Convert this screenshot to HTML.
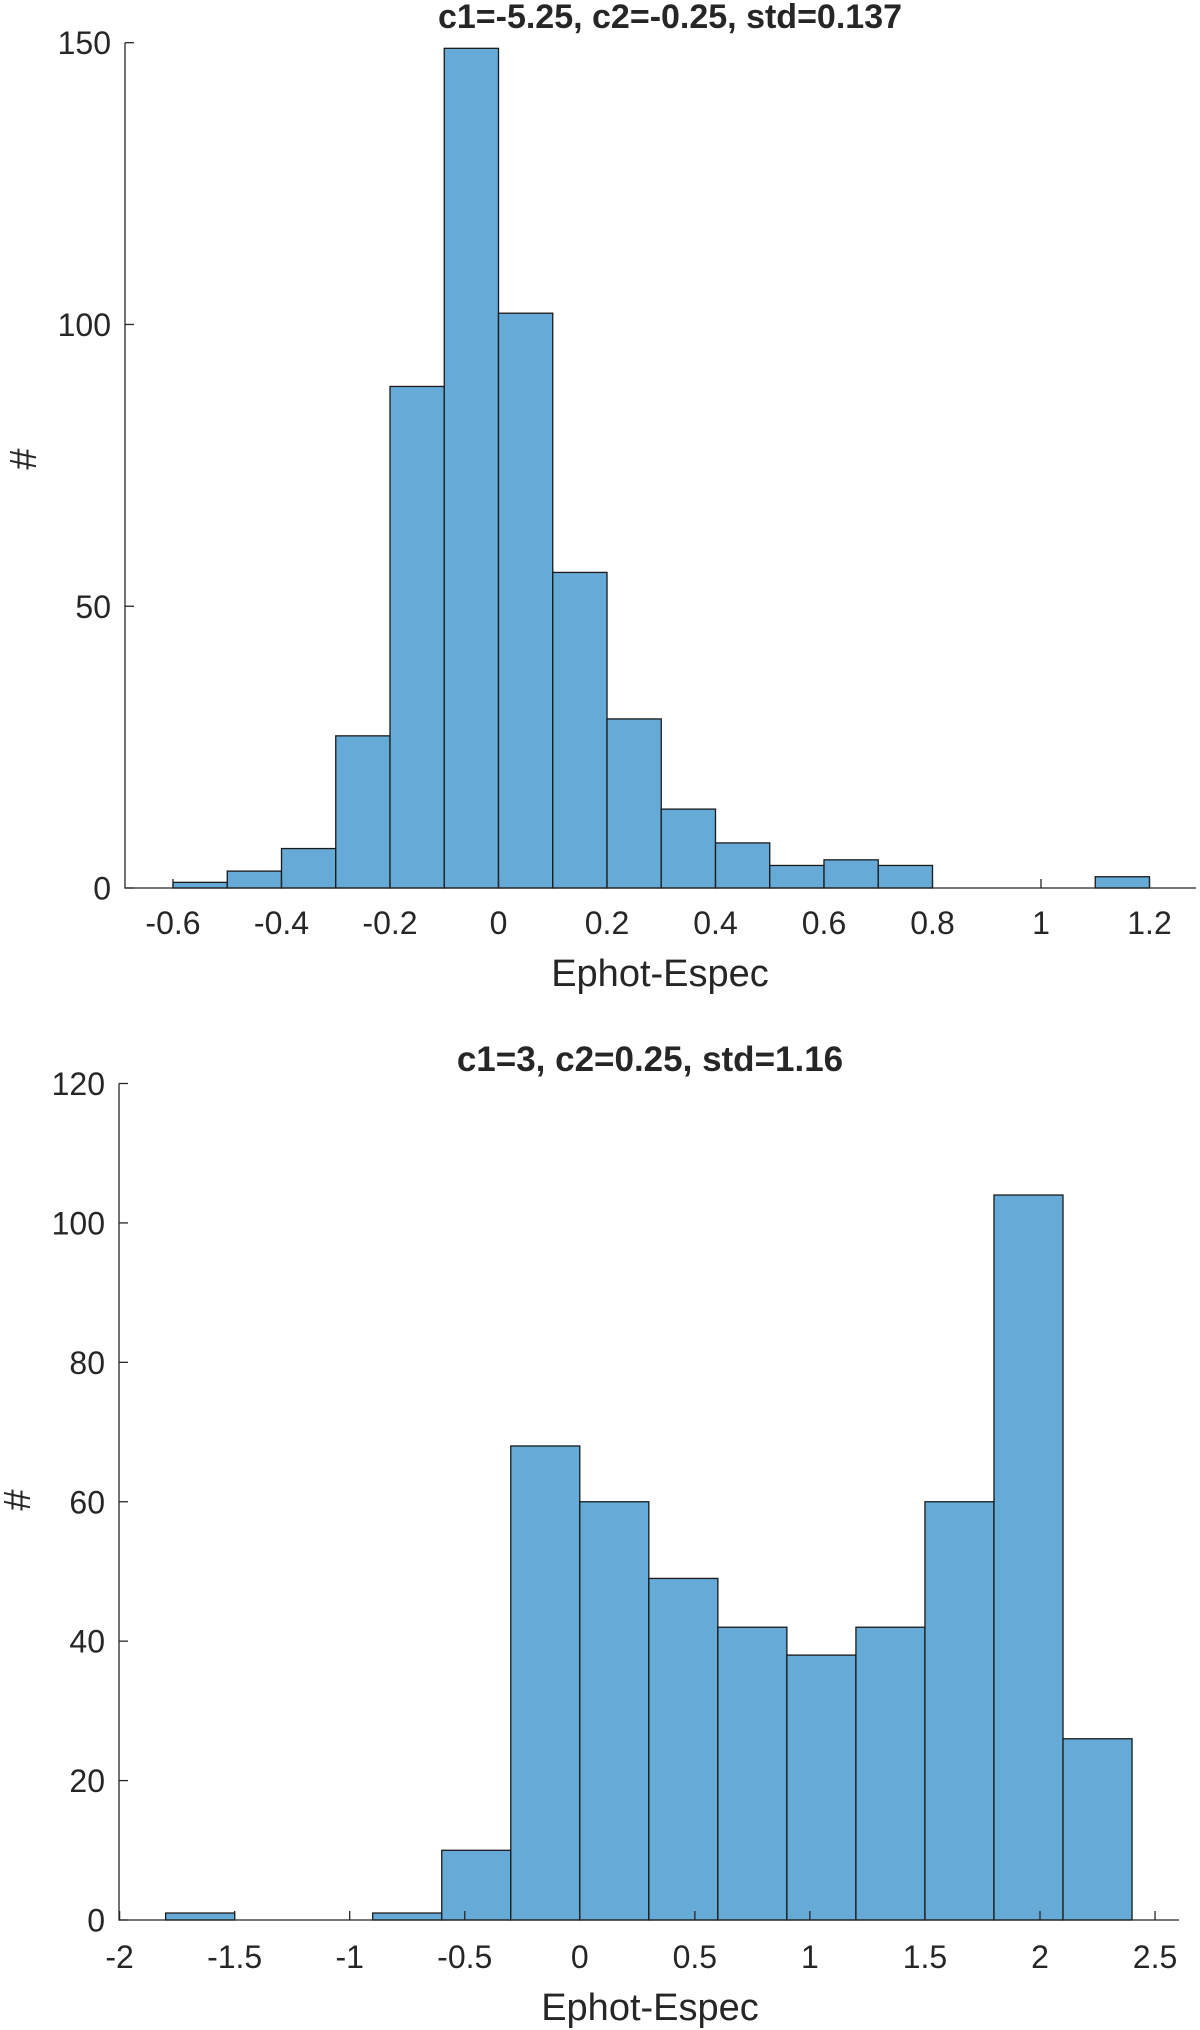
<!DOCTYPE html>
<html><head><meta charset="utf-8"><style>
html,body{margin:0;padding:0;background:#fff}
svg{display:block}
text{font-family:"Liberation Sans",Arial,sans-serif;fill:#262626}
</style></head><body>
<svg id="fig" width="1200" height="2030" viewBox="0 0 1200 2030" xmlns="http://www.w3.org/2000/svg"></svg>
<script>
// Top histogram data
const topBinEdges = [-0.6,-0.5,-0.4,-0.3,-0.2,-0.1,0,0.1,0.2,0.3,0.4,0.5,0.6,0.7,0.8,0.9,1.0,1.1,1.2];
const topCounts = [1,3,7,27,89,149,102,56,30,14,8,4,5,4,0,0,0,2];
const topXTicks = [-0.6,-0.4,-0.2,0,0.2,0.4,0.6,0.8,1,1.2];
const topYTicks = [0,50,100,150];
// Bottom histogram data
const botBinEdges = [-1.8,-1.5,-1.2,-0.9,-0.6,-0.3,0,0.3,0.6,0.9,1.2,1.5,1.8,2.1,2.4];
const botCounts = [1,0,0,1,10,68,60,49,42,38,42,60,104,26];
const botXTicks = [-2,-1.5,-1,-0.5,0,0.5,1,1.5,2,2.5];
const botYTicks = [0,20,40,60,80,100,120];

const NS="http://www.w3.org/2000/svg";
const svg=document.getElementById('fig');
function mk(tag,attrs,parent){const e=document.createElementNS(NS,tag);for(const k in attrs)e.setAttribute(k,attrs[k]);(parent||svg).appendChild(e);return e;}

function drawHist(cfg){
  const g=mk('g',{});
  
  
  const xs=v=>cfg.x0px+(v-cfg.x0)*cfg.xscale;
  const ys=v=>cfg.bottom-(v/cfg.ymax)*(cfg.bottom-cfg.top);
  for(let i=0;i<cfg.counts.length;i++){
    const c=cfg.counts[i];
    const x1=xs(cfg.edges[i]),x2=xs(cfg.edges[i+1]);
    const r=mk('rect',{x:x1,y:ys(c),width:x2-x1,height:ys(0)-ys(c),fill:'#66aad7',stroke:'#1a1a1a','stroke-width':1.3},g);
    
    
  }
  const ax=mk('path',{d:`M${cfg.left},${cfg.top} L${cfg.left},${cfg.bottom} L${cfg.right},${cfg.bottom}`,fill:'none',stroke:'#262626','stroke-width':1.3},g);
  
  
  const fs=cfg.fs;
  cfg.xticks.forEach(t=>{
    const x=xs(t);
    mk('line',{x1:x,y1:cfg.bottom,x2:x,y2:cfg.bottom-9,stroke:'#262626','stroke-width':1.3},g);
    const tx=mk('text',{x:x,y:cfg.bottom+cfg.xtickOff,'text-anchor':'middle','font-size':fs},g);
    tx.textContent=String(t);
    
    
  });
  cfg.yticks.forEach(t=>{
    const y=ys(t);
    mk('line',{x1:cfg.left,y1:y,x2:cfg.left+9,y2:y,stroke:'#262626','stroke-width':1.3},g);
    const tx=mk('text',{x:cfg.left-14,y:y+fs*0.36,'text-anchor':'end','font-size':fs},g);
    tx.textContent=String(t);
    
    
  });
  const ti=mk('text',{x:cfg.titleX,y:cfg.titleY,'text-anchor':'middle','font-size':cfg.titleFs,'font-weight':'bold',fill:'#000'},g);
  ti.textContent=cfg.title;
  
  
  const xl=mk('text',{x:cfg.xlabelX,y:cfg.xlabelY,'text-anchor':'middle','font-size':cfg.labelFs},g);
  xl.textContent='Ephot-Espec';
  
  
  const yl=mk('text',{x:0,y:0,'text-anchor':'middle','font-size':cfg.labelFs,transform:`translate(${cfg.ylabelX},${cfg.ylabelY}) rotate(-90)`},g);
  yl.textContent='#';
  
  
}

drawHist({name:'top-histogram',edges:topBinEdges,counts:topCounts,xticks:topXTicks,yticks:topYTicks,
  x0:0,x0px:498.5,xscale:542.5,ymax:150,left:125,right:1196,top:42.7,bottom:888,fs:32,labelFs:38,xtickOff:46,titleFs:34,
  title:'c1=-5.25, c2=-0.25, std=0.137',titleX:670,titleY:28,xlabelX:660,xlabelY:986,ylabelX:36,ylabelY:459});
drawHist({name:'bottom-histogram',edges:botBinEdges,counts:botCounts,xticks:botXTicks,yticks:botYTicks,
  x0:0,x0px:579.8,xscale:230.1,ymax:120,left:119,right:1179,top:1083.5,bottom:1920,fs:32,labelFs:38,xtickOff:48,titleFs:35,
  title:'c1=3, c2=0.25, std=1.16',titleX:650,titleY:1071,xlabelX:650,xlabelY:2020,ylabelX:30,ylabelY:1500});
</script>
</body></html>
